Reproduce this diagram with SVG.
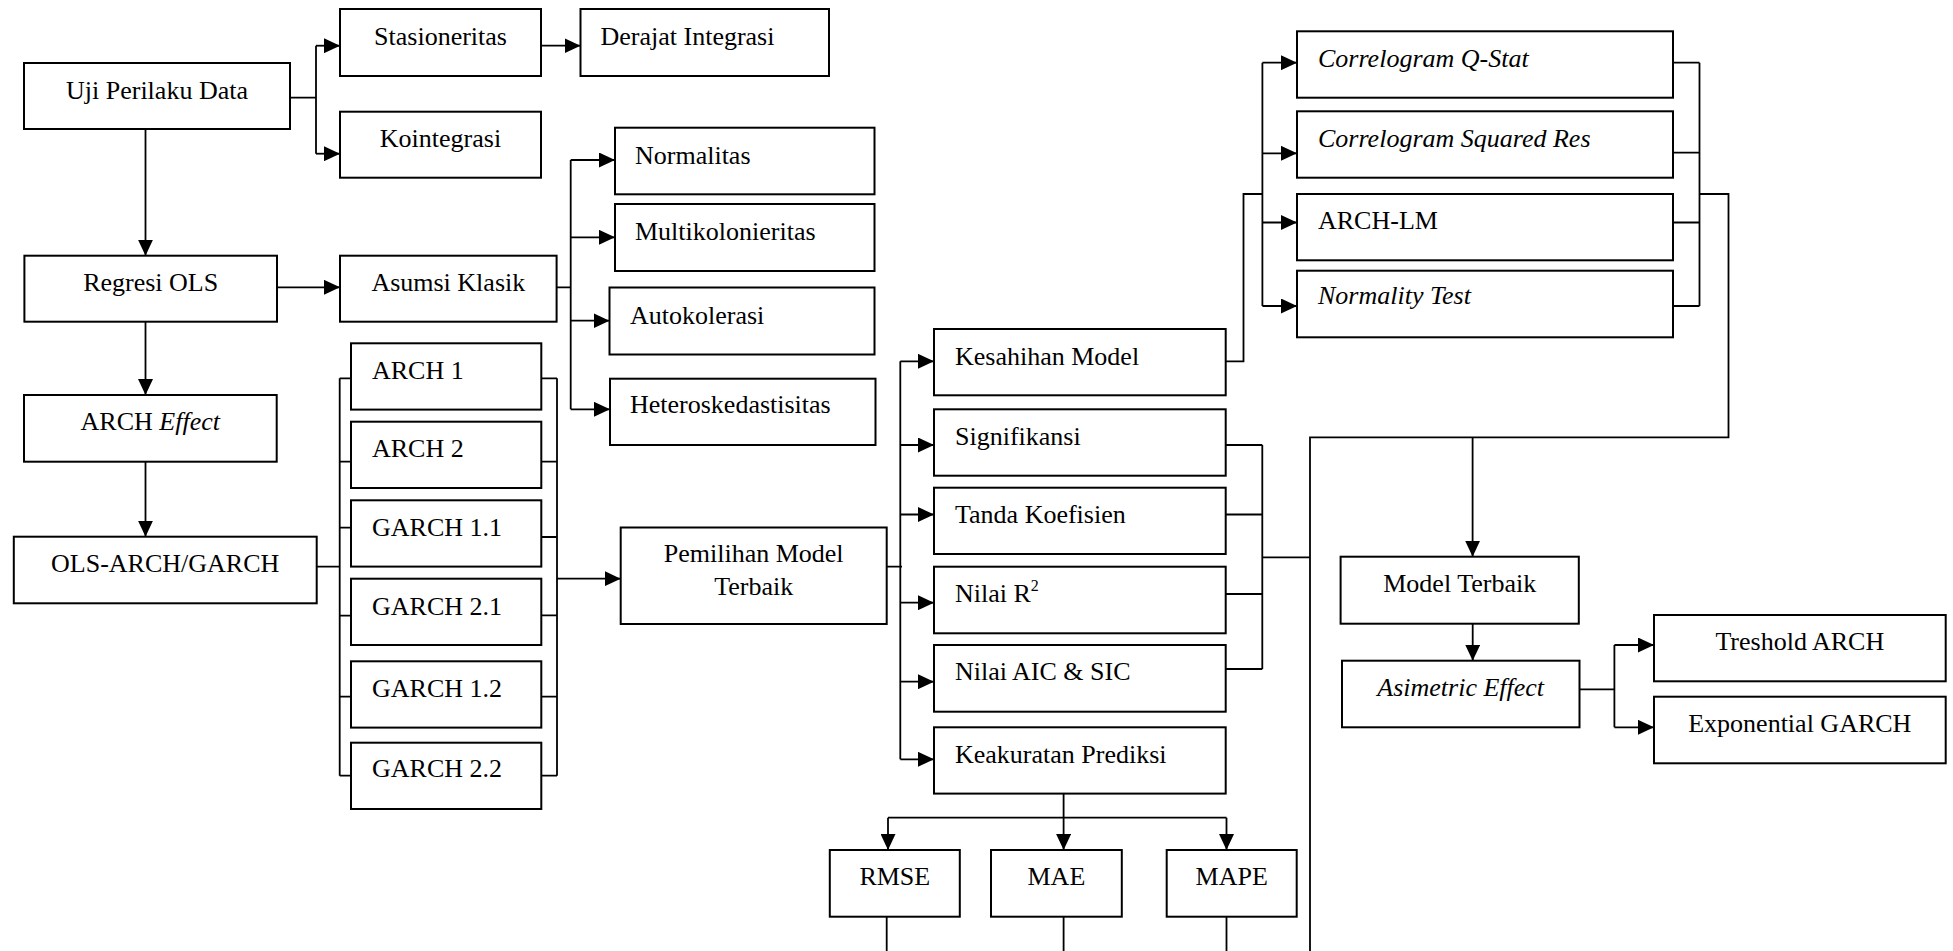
<svg xmlns="http://www.w3.org/2000/svg" width="1953" height="951" viewBox="0 0 1953 951">
<style>
.box{fill:#fff;stroke:#000;stroke-width:2}
.t{font-family:"Liberation Serif","Times New Roman",serif;font-size:26px;fill:#000}
.c{text-anchor:middle}
.i{font-style:italic}
.ln{fill:none;stroke:#000;stroke-width:1.8}
.ar{fill:none;stroke:#000;stroke-width:1.8;marker-end:url(#ah)}
</style>
<defs>
<marker id="ah" markerUnits="userSpaceOnUse" markerWidth="16" markerHeight="15" refX="16" refY="7.5" orient="auto" viewBox="0 0 16 15">
<path d="M0,0 L16,7.5 L0,15 z" fill="#000"/>
</marker>
</defs>
<rect width="1953" height="951" fill="#fff"/>
<g id="connectors">
<path class="ln" d="M290,97.7 H316 M316,45.7 V153.7"/>
<path class="ar" d="M316,45.7 H340"/>
<path class="ar" d="M316,153.7 H340"/>
<path class="ar" d="M541,45.7 H580.5"/>
<path class="ar" d="M145.5,129 V255.7"/>
<path class="ar" d="M277,287.3 H340"/>
<path class="ln" d="M556.6,287.3 H570.7 M570.7,160 V409.3"/>
<path class="ar" d="M570.7,160 H615"/>
<path class="ar" d="M570.7,237.3 H615"/>
<path class="ar" d="M570.7,320.7 H609.5"/>
<path class="ar" d="M570.7,409.3 H610"/>
<path class="ar" d="M145.5,321.7 V395"/>
<path class="ar" d="M145.5,461.7 V536.7"/>
<path class="ln" d="M316.7,566.7 H339.7 M339.7,378.3 V775.7 M339.7,378.3 H351 M339.7,461.7 H351 M339.7,527.7 H351 M339.7,615.7 H351 M339.7,696.7 H351 M339.7,775.7 H351"/>
<path class="ln" d="M557,378.3 V775.7 M541.3,378.3 H557 M541.3,461.7 H557 M541.3,537 H557 M541.3,615.3 H557 M541.3,696.7 H557 M541.3,775.7 H557"/>
<path class="ar" d="M557,578.7 H620.7"/>
<path class="ln" d="M886.7,566.7 H902 M900.3,361.3 V759.3"/>
<path class="ar" d="M900.3,361.3 H934"/>
<path class="ar" d="M900.3,445 H934"/>
<path class="ar" d="M900.3,514.5 H934"/>
<path class="ar" d="M900.3,602.7 H934"/>
<path class="ar" d="M900.3,681.7 H934"/>
<path class="ar" d="M900.3,759.3 H934"/>
<path class="ln" d="M1225.7,361.3 H1243.5 V194 H1262.4 M1262.4,62.7 V306"/>
<path class="ar" d="M1262.4,62.7 H1297"/>
<path class="ar" d="M1262.4,153.3 H1297"/>
<path class="ar" d="M1262.4,222.5 H1297"/>
<path class="ar" d="M1262.4,306 H1297"/>
<path class="ln" d="M1699.5,62.7 V306 M1673,62.7 H1699.5 M1673,152.7 H1699.5 M1673,222.5 H1699.5 M1673,306 H1699.5 M1699.5,194 H1728.5 V437.3 H1310 V951"/>
<path class="ar" d="M1472.6,437.3 V556.7"/>
<path class="ln" d="M1262.3,445 V669 M1225.7,445 H1262.3 M1225.7,514.5 H1262.3 M1225.7,594 H1262.3 M1225.7,669 H1262.3 M1262.3,557.3 H1310"/>
<path class="ln" d="M1063.6,793.6 V817.7 M888,817.7 H1226.5"/>
<path class="ar" d="M888,817.7 V850"/>
<path class="ar" d="M1063.6,817.7 V850"/>
<path class="ar" d="M1226.5,817.7 V850"/>
<path class="ln" d="M886.7,916.7 V951 M1063.6,916.7 V951 M1226.5,916.7 V951"/>
<path class="ar" d="M1472.7,623.7 V660.7"/>
<path class="ln" d="M1579.5,689.3 H1614.4 M1614.4,645 V727.3"/>
<path class="ar" d="M1614.4,645 H1654"/>
<path class="ar" d="M1614.4,727.3 H1654"/>
</g>
<g id="uji"><rect class="box" x="24" y="63" width="266" height="66"/><text class="t c" x="157" y="99">Uji Perilaku Data</text></g>
<g id="stasioneritas"><rect class="box" x="340" y="9" width="201" height="67"/><text class="t c" x="440.5" y="45">Stasioneritas</text></g>
<g id="derajat"><rect class="box" x="580.5" y="9" width="248.5" height="67"/><text class="t" x="600.5" y="45">Derajat Integrasi</text></g>
<g id="kointegrasi"><rect class="box" x="340" y="111.7" width="201" height="66"/><text class="t c" x="440.5" y="146.7">Kointegrasi</text></g>
<g id="normalitas"><rect class="box" x="615" y="127.7" width="259.5" height="66.6"/><text class="t" x="635" y="164">Normalitas</text></g>
<g id="multikolonieritas"><rect class="box" x="615" y="204" width="259.5" height="67"/><text class="t" x="635" y="240">Multikolonieritas</text></g>
<g id="autokolerasi"><rect class="box" x="609.5" y="287.5" width="265" height="67"/><text class="t" x="630" y="324">Autokolerasi</text></g>
<g id="heteroskedastisitas"><rect class="box" x="610" y="378.7" width="265.5" height="66.3"/><text class="t" x="630" y="413.3">Heteroskedastisitas</text></g>
<g id="regresi"><rect class="box" x="24.4" y="255.7" width="252.6" height="66"/><text class="t c" x="150.7" y="290.7">Regresi OLS</text></g>
<g id="asumsi"><rect class="box" x="340" y="255.7" width="216.6" height="66"/><text class="t c" x="448.3" y="290.7">Asumsi Klasik</text></g>
<g id="arch-effect"><rect class="box" x="24" y="395" width="252.7" height="66.7"/><text class="t c" x="150.3" y="430">ARCH <tspan class="i">Effect</tspan></text></g>
<g id="ols-arch-garch"><rect class="box" x="13.8" y="536.7" width="302.9" height="66.6"/><text class="t c" x="165.2" y="571.7">OLS-ARCH/GARCH</text></g>
<g id="arch1"><rect class="box" x="351" y="343.3" width="190.3" height="66.3"/><text class="t" x="372" y="379">ARCH 1</text></g>
<g id="arch2"><rect class="box" x="351" y="421.7" width="190.3" height="66.3"/><text class="t" x="372" y="456.7">ARCH 2</text></g>
<g id="garch11"><rect class="box" x="351" y="500.3" width="190.3" height="66.3"/><text class="t" x="372" y="536">GARCH 1.1</text></g>
<g id="garch21"><rect class="box" x="351" y="578.7" width="190.3" height="66.3"/><text class="t" x="372" y="615">GARCH 2.1</text></g>
<g id="garch12"><rect class="box" x="351" y="661.3" width="190.3" height="66.3"/><text class="t" x="372" y="696.7">GARCH 1.2</text></g>
<g id="garch22"><rect class="box" x="351" y="742.7" width="190.3" height="66.3"/><text class="t" x="372" y="777.3">GARCH 2.2</text></g>
<g id="pemilihan"><rect class="box" x="620.7" y="527.5" width="266" height="96.5"/><text class="t c" x="753.7" y="561.7">Pemilihan Model</text><text class="t c" x="753.7" y="595">Terbaik</text></g>
<g id="kesahihan"><rect class="box" x="934" y="329" width="291.7" height="66.3"/><text class="t" x="955" y="365">Kesahihan Model</text></g>
<g id="signifikansi"><rect class="box" x="934" y="409.3" width="291.7" height="66.4"/><text class="t" x="955" y="445">Signifikansi</text></g>
<g id="tanda"><rect class="box" x="934" y="487.7" width="291.7" height="66.3"/><text class="t" x="955" y="523">Tanda Koefisien</text></g>
<g id="nilai-r2"><rect class="box" x="934" y="566.7" width="291.7" height="66.6"/><text class="t" x="955" y="601.7">Nilai R<tspan font-size="16" dy="-11">2</tspan></text></g>
<g id="aic-sic"><rect class="box" x="934" y="645" width="291.7" height="66.7"/><text class="t" x="955" y="680">Nilai AIC &amp; SIC</text></g>
<g id="keakuratan"><rect class="box" x="934" y="727.3" width="291.7" height="66.3"/><text class="t" x="955" y="763.3">Keakuratan Prediksi</text></g>
<g id="rmse"><rect class="box" x="829.8" y="850" width="130" height="66.7"/><text class="t c" x="894.8" y="885">RMSE</text></g>
<g id="mae"><rect class="box" x="991" y="850" width="130.8" height="66.7"/><text class="t c" x="1056.4" y="885">MAE</text></g>
<g id="mape"><rect class="box" x="1166.7" y="850" width="130" height="66.7"/><text class="t c" x="1231.7" y="885">MAPE</text></g>
<g id="correlogram-q"><rect class="box" x="1297" y="31.3" width="376" height="66.4"/><text class="t i" x="1318" y="66.7">Correlogram Q-Stat</text></g>
<g id="correlogram-sq"><rect class="box" x="1297" y="111.3" width="376" height="66.4"/><text class="t i" x="1318" y="146.7">Correlogram Squared Res</text></g>
<g id="arch-lm"><rect class="box" x="1297" y="194" width="376" height="66.3"/><text class="t" x="1318" y="229.3">ARCH-LM</text></g>
<g id="normality"><rect class="box" x="1297" y="270.7" width="376" height="66.6"/><text class="t i" x="1318" y="304">Normality Test</text></g>
<g id="model-terbaik"><rect class="box" x="1340.6" y="556.7" width="238.2" height="67"/><text class="t c" x="1459.7" y="591.7">Model Terbaik</text></g>
<g id="asimetric"><rect class="box" x="1342" y="660.7" width="237.5" height="66.6"/><text class="t c i" x="1460.7" y="696">Asimetric Effect</text></g>
<g id="treshold"><rect class="box" x="1654" y="615" width="291.7" height="66.3"/><text class="t c" x="1799.8" y="650">Treshold ARCH</text></g>
<g id="exponential"><rect class="box" x="1654" y="696.7" width="291.7" height="66.6"/><text class="t c" x="1799.8" y="732.3">Exponential GARCH</text></g>
</svg>
